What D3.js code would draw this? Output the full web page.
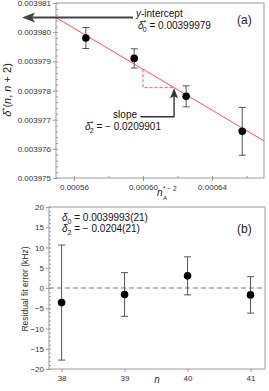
<!DOCTYPE html>
<html><head><meta charset="utf-8">
<script src="https://cdn.jsdelivr.net/npm/d3@7"></script>
<style>
body{margin:0;background:#fff;}
svg{display:block;font-family:"Liberation Sans",Arial,sans-serif;}
</style></head>
<body><svg id="c" width="269" height="391"></svg>
<script>
// ---- Data (panel a) ----
const nStarInvSq = [0.0005669, 0.0005949, 0.000625, 0.0006575];
const deltaStar  = [0.0039798, 0.0039791, 0.0039778, 0.0039766];
const deltaErr   = [0.00000036, 0.00000033, 0.00000036, 0.00000082];
const fitIntercept = 0.00399979;
const fitSlope = -0.0351;
const yTicksA = [0.003975,0.003976,0.003977,0.003978,0.003979,0.003980,0.003981];
const xTicksA = [0.00056,0.00060,0.00064];
// ---- Data (panel b) ----
const nValues  = [38, 39, 40, 41];
const residual = [-3.6, -1.6, 3.0, -1.7];
const resErr   = [14.2, 5.4, 4.7, 4.5];
const yTicksB = [-20,-15,-10,-5,0,5,10,15,20];
const xTicksB = [38,39,40,41];

const svg = d3.select("#c");
const frameCol = "#9a9a9a", textCol = "#333", red = "#ff5050";

function styleAxis(g){
  g.select(".domain").remove();
  g.selectAll(".tick line").attr("stroke", frameCol);
  g.selectAll(".tick text").attr("fill", textCol).style("font-size","8px");
}

// ===== Panel A =====
const xA = d3.scaleLinear().domain([0.0005496, 0.0006701]).range([56, 264]);
const yA = d3.scaleLinear().domain([0.003975, 0.003981]).range([178, 3]);

svg.append("rect").attr("x",56).attr("y",3).attr("width",208).attr("height",175)
  .attr("fill","none").attr("stroke",frameCol);

svg.append("g").attr("transform","translate(56,0)")
  .call(d3.axisLeft(yA).tickValues(yTicksA).tickSize(3).tickPadding(2).tickFormat(d=>d.toFixed(6)))
  .call(styleAxis);
svg.append("g").attr("transform","translate(56,0)")
  .call(d3.axisLeft(yA).tickValues(d3.range(0,31).map(i=>0.003975+i*2e-7)).tickSize(-2).tickFormat(""))
  .call(styleAxis);
svg.append("g").attr("transform","translate(0,178)")
  .call(d3.axisBottom(xA).tickValues(xTicksA).tickSize(3).tickPadding(3).tickFormat(d=>d.toFixed(5)))
  .call(styleAxis);
svg.append("g").attr("transform","translate(0,178)")
  .call(d3.axisBottom(xA).tickValues(d3.range(0,7).map(i=>0.00054+i*0.00002)).tickSize(-2).tickFormat(""))
  .call(styleAxis);

// fit line
const x0 = xA.domain()[0], x1 = xA.domain()[1];
const fit = x => fitIntercept + fitSlope * x;
svg.append("line").attr("x1",xA(x0)).attr("y1",yA(fit(x0))).attr("x2",xA(x1)).attr("y2",yA(fit(x1)))
  .attr("stroke",red).attr("stroke-width",1);

// slope triangle (dashed)
const tX0 = 0.0006, tX1 = 0.000618;
svg.append("path")
  .attr("d",`M${xA(tX0)},${yA(fit(tX0))}V${yA(fit(tX1))}H${xA(tX1)}`)
  .attr("fill","none").attr("stroke",red).attr("stroke-dasharray","3,2").attr("stroke-width",1);

// slope arrow
const arrowTop = fit(tX1) - 0.00000002, arrowBot = 0.0039771, arrowLeft = 0.0005985;
const axp = xA(tX1), ayTop = yA(arrowTop), ayBot = yA(arrowBot);
svg.append("path").attr("d",`M${xA(arrowLeft)},${ayBot}H${axp}V${ayTop+6}`)
  .attr("fill","none").attr("stroke","#333").attr("stroke-width",1.4);
svg.append("path").attr("d",`M${axp},${ayTop}L${axp+4},${ayTop+10}L${axp},${ayTop+8}L${axp-4},${ayTop+10}Z`)
  .attr("fill","#333");

// y-intercept arrow
const yiY = yA(fit(x0)), yiTail = xA(0.0005942), yiTip = 22;
svg.append("line").attr("x1",yiTip+6).attr("y1",yiY).attr("x2",yiTail).attr("y2",yiY)
  .attr("stroke","#444").attr("stroke-width",2);
svg.append("path").attr("d",`M${yiTip},${yiY}L${yiTip+13},${yiY-5}L${yiTip+10},${yiY}L${yiTip+13},${yiY+5}Z`)
  .attr("fill","#444");

// error bars + points
nStarInvSq.forEach((x,i)=>{
  const cx = xA(x), yt = yA(deltaStar[i]+deltaErr[i]), yb = yA(deltaStar[i]-deltaErr[i]);
  const g = svg.append("g").attr("stroke","#555").attr("stroke-width",1);
  g.append("line").attr("x1",cx).attr("x2",cx).attr("y1",yt).attr("y2",yb);
  g.append("line").attr("x1",cx-3.5).attr("x2",cx+3.5).attr("y1",yt).attr("y2",yt);
  g.append("line").attr("x1",cx-3.5).attr("x2",cx+3.5).attr("y1",yb).attr("y2",yb);
  svg.append("circle").attr("cx",cx).attr("cy",yA(deltaStar[i])).attr("r",3.8).attr("fill","#000");
});

// annotation texts A
let t = svg.append("text").attr("x",136).attr("y",17).attr("fill","#111").style("font-size","10px");
t.append("tspan").style("font-style","italic").text("y");
t.append("tspan").text("-intercept");
t = svg.append("text").attr("x",138).attr("y",29).attr("fill","#111").style("font-size","10px");
t.append("tspan").style("font-style","italic").text("δ");
t.append("tspan").attr("dy",-4).style("font-size","7px").text("*");
t.append("tspan").attr("dx",-3.5).attr("dy",7).style("font-size","7px").text("0");
t.append("tspan").attr("dy",-3).text(" = 0.00399979");

svg.append("text").attr("x",137).attr("y",118).attr("text-anchor","end").attr("fill","#111")
  .style("font-size","10px").text("slope");
t = svg.append("text").attr("x",85).attr("y",130).attr("fill","#111").style("font-size","10px");
t.append("tspan").style("font-style","italic").text("δ");
t.append("tspan").attr("dy",-4).style("font-size","7px").text("*");
t.append("tspan").attr("dx",-3.5).attr("dy",7).style("font-size","7px").text("2");
t.append("tspan").attr("dy",-3).text(" = − 0.0209901");

svg.append("text").attr("x",237).attr("y",24).attr("fill","#222").style("font-size","12px").text("(a)");

// axis labels A
t = svg.append("text").attr("transform","translate(11,90) rotate(-90)").attr("text-anchor","middle")
  .attr("fill","#222").style("font-size","11px");
t.append("tspan").style("font-style","italic").text("δ");
t.append("tspan").attr("dy",-4).style("font-size","8px").text("*");
t.append("tspan").attr("dy",4).text("(");
t.append("tspan").style("font-style","italic").text("n");
t.append("tspan").text(", ");
t.append("tspan").style("font-style","italic").text("n");
t.append("tspan").text(" + 2)");

svg.append("text").attr("x",157).attr("y",196).attr("fill","#222").style("font-size","10px")
  .style("font-style","italic").text("n");
svg.append("text").attr("x",163).attr("y",191).attr("fill","#222").style("font-size","6.5px").text("* − 2");
svg.append("text").attr("x",163).attr("y",200).attr("fill","#222").style("font-size","6px")
  .style("font-style","italic").text("A");

// ===== Panel B =====
const xB = d3.scaleLinear().domain([37.8, 41.23]).range([49, 265]);
const yB = d3.scaleLinear().domain([-20, 20]).range([369, 207]);

svg.append("rect").attr("x",49).attr("y",207).attr("width",216).attr("height",162)
  .attr("fill","none").attr("stroke",frameCol);
svg.append("g").attr("transform","translate(49,0)")
  .call(d3.axisLeft(yB).tickValues(yTicksB).tickSize(3).tickPadding(2).tickFormat(d3.format("d")))
  .call(styleAxis);
svg.append("g").attr("transform","translate(49,0)")
  .call(d3.axisLeft(yB).tickValues(d3.range(-20,21,1)).tickSize(-2).tickFormat(""))
  .call(styleAxis);
svg.append("g").attr("transform","translate(0,369)")
  .call(d3.axisBottom(xB).tickValues(xTicksB).tickSize(3).tickPadding(3).tickFormat(d3.format("d")))
  .call(styleAxis);

svg.append("line").attr("x1",xB.range()[0]).attr("x2",xB.range()[1]).attr("y1",yB(0)).attr("y2",yB(0))
  .attr("stroke","#777").attr("stroke-dasharray","5,3").attr("stroke-width",1);

nValues.forEach((n,i)=>{
  const cx = xB(n), yt = yB(residual[i]+resErr[i]), yb = yB(residual[i]-resErr[i]);
  const g = svg.append("g").attr("stroke","#555").attr("stroke-width",1);
  g.append("line").attr("x1",cx).attr("x2",cx).attr("y1",yt).attr("y2",yb);
  g.append("line").attr("x1",cx-3.5).attr("x2",cx+3.5).attr("y1",yt).attr("y2",yt);
  g.append("line").attr("x1",cx-3.5).attr("x2",cx+3.5).attr("y1",yb).attr("y2",yb);
  svg.append("circle").attr("cx",cx).attr("cy",yB(residual[i])).attr("r",3.8).attr("fill","#000");
});

t = svg.append("text").attr("x",62).attr("y",221).attr("fill","#111").style("font-size","10px");
t.append("tspan").style("font-style","italic").text("δ");
t.append("tspan").attr("dy",3).style("font-size","7px").text("0");
t.append("tspan").attr("dy",-3).text(" = 0.0039993(21)");
t = svg.append("text").attr("x",62).attr("y",232).attr("fill","#111").style("font-size","10px");
t.append("tspan").style("font-style","italic").text("δ");
t.append("tspan").attr("dy",3).style("font-size","7px").text("2");
t.append("tspan").attr("dy",-3).text(" = − 0.0204(21)");

svg.append("text").attr("x",237).attr("y",233).attr("fill","#222").style("font-size","12px").text("(b)");

svg.append("text").attr("transform","translate(28,289) rotate(-90)").attr("text-anchor","middle")
  .attr("fill","#333").style("font-size","8.5px").text("Residual fit error (kHz)");
svg.append("text").attr("x",157).attr("y",383).attr("text-anchor","middle").attr("fill","#333")
  .style("font-size","10px").style("font-style","italic").text("n");
</script></body></html>
